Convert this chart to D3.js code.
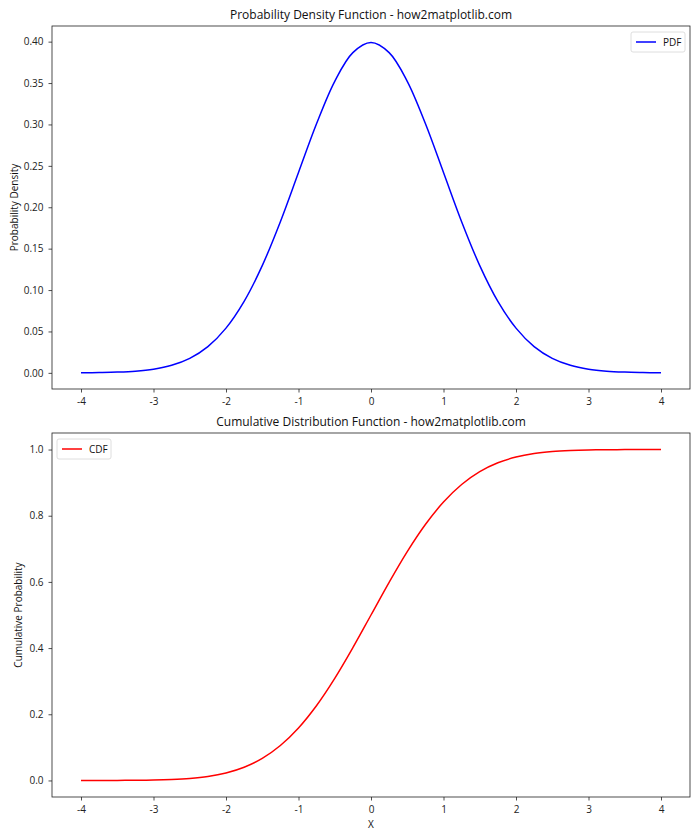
<!DOCTYPE html>
<html>
<head>
<meta charset="utf-8">
<script src="https://cdn.jsdelivr.net/npm/d3@7"></script>
<style>
  body { margin: 0; background: #fff; }
  svg { font-family: "Open Sans", "DejaVu Sans", sans-serif; }
</style>
</head>
<body>
<div id="container"></div>
<script>
// x positions sampled along the curves
let xValues = [-4, -3.75, -3.5, -3.25, -3, -2.75, -2.5, -2.25, -2, -1.75, -1.5, -1.25, -1, -0.75, -0.5, -0.25,
  0, 0.25, 0.5, 0.75, 1, 1.25, 1.5, 1.75, 2, 2.25, 2.5, 2.75, 3, 3.25, 3.5, 3.75, 4];

// PDF values
let pdfValues = [0.0001, 0.0004, 0.0009, 0.002, 0.0044, 0.0091, 0.0175, 0.0317, 0.054, 0.0863, 0.1295, 0.1826,
  0.242, 0.3011, 0.3521, 0.3867, 0.3989, 0.3867, 0.3521, 0.3011, 0.242, 0.1826, 0.1295, 0.0863, 0.054,
  0.0317, 0.0175, 0.0091, 0.0044, 0.002, 0.0009, 0.0004, 0.0001];

// CDF values
let cdfValues = [0.0000, 0.0001, 0.0002, 0.0006, 0.0013, 0.003, 0.0062, 0.0122, 0.0228, 0.0401, 0.0668, 0.1057,
  0.1587, 0.2266, 0.3085, 0.4013, 0.5, 0.5987, 0.6915, 0.7734, 0.8413, 0.8943, 0.9332, 0.9599, 0.9772,
  0.9878, 0.9938, 0.997, 0.9987, 0.9994, 0.9998, 0.9999, 1.0];

let xTicks = [-4, -3, -2, -1, 0, 1, 2, 3, 4];
let pdfTicks = [0, 0.05, 0.1, 0.15, 0.2, 0.25, 0.3, 0.35, 0.4];
let cdfTicks = [0, 0.2, 0.4, 0.6, 0.8, 1.0];

let svg = d3.select('#container')
  .append("svg")
  .attr("width", 700)
  .attr("height", 840);

function drawPanel(opts) {
  let x = d3.scaleLinear().domain([-4.4, 4.4]).range([52, 690]);
  let y = d3.scaleLinear().domain(opts.yDomain).range([opts.bottom, opts.top]);

  let g = svg.append("g");

  let line = d3.line()
    .x((d, i) => x(xValues[i]))
    .y(d => y(d))
    .curve(d3.curveCatmullRom.alpha(0.5));

  g.append("path")
    .datum(opts.values)
    .attr("fill", "none")
    .attr("stroke", opts.color)
    .attr("stroke-width", 1.5)
    .attr("d", line);

  // axes
  let xAxis = g.append("g")
    .attr("transform", `translate(0,${opts.bottom})`)
    .call(d3.axisBottom(x).tickValues(xTicks).tickSize(3.5).tickPadding(5).tickFormat(d3.format("d")));
  let yAxis = g.append("g")
    .attr("transform", `translate(52,0)`)
    .call(d3.axisLeft(y).tickValues(opts.yTicks).tickSize(3.5).tickPadding(5).tickFormat(d3.format(opts.fmt)));

  [xAxis, yAxis].forEach(a => {
    a.select(".domain").remove();
    a.selectAll("line").attr("stroke", "#222").attr("stroke-width", 0.8);
    a.selectAll("text").attr("font-size", 10).attr("fill", "#222")
      .attr("font-family", "'Open Sans', 'DejaVu Sans', sans-serif");
  });
  xAxis.selectAll("text").text(d => String(d).replace("−", "-"));

  // frame
  g.append("rect")
    .attr("x", 52).attr("y", opts.top)
    .attr("width", 638).attr("height", opts.bottom - opts.top)
    .attr("fill", "none").attr("stroke", "#222").attr("stroke-width", 0.8);

  // title
  g.append("text")
    .attr("x", 371).attr("y", opts.top - 7)
    .attr("text-anchor", "middle")
    .attr("font-size", 12)
    .attr("fill", "#111")
    .text(opts.title);

  // y label
  g.append("text")
    .attr("transform", `translate(${opts.ylabelX},${(opts.top + opts.bottom) / 2}) rotate(-90)`)
    .attr("text-anchor", "middle")
    .attr("font-size", 10)
    .attr("fill", "#111")
    .text(opts.ylabel);

  // legend
  let lg = g.append("g").attr("transform", `translate(${opts.legendX},${opts.top + 6})`);
  lg.append("rect")
    .attr("width", 54).attr("height", 20).attr("rx", 2)
    .attr("fill", "#fff").attr("stroke", "#d5d5d5").attr("stroke-width", 0.8);
  lg.append("line")
    .attr("x1", 5).attr("x2", 25).attr("y1", 10).attr("y2", 10)
    .attr("stroke", opts.color).attr("stroke-width", 1.5);
  lg.append("text")
    .attr("x", 32).attr("y", 14)
    .attr("font-size", 10).attr("fill", "#111")
    .text(opts.label);

  return g;
}

drawPanel({
  top: 26, bottom: 389,
  yDomain: [-0.0195, 0.4189],
  values: pdfValues, color: "blue",
  yTicks: pdfTicks, fmt: ".2f",
  title: "Probability Density Function - how2matplotlib.com",
  ylabel: "Probability Density", ylabelX: 18,
  label: "PDF", legendX: 631
});

drawPanel({
  top: 433, bottom: 797,
  yDomain: [-0.05, 1.05],
  values: cdfValues, color: "red",
  yTicks: cdfTicks, fmt: ".1f",
  title: "Cumulative Distribution Function - how2matplotlib.com",
  ylabel: "Cumulative Probability", ylabelX: 22,
  label: "CDF", legendX: 57
});

// shared x label
svg.append("text")
  .attr("x", 371).attr("y", 828)
  .attr("text-anchor", "middle")
  .attr("font-size", 10)
  .attr("fill", "#111")
  .text("X");
</script>
</body>
</html>
